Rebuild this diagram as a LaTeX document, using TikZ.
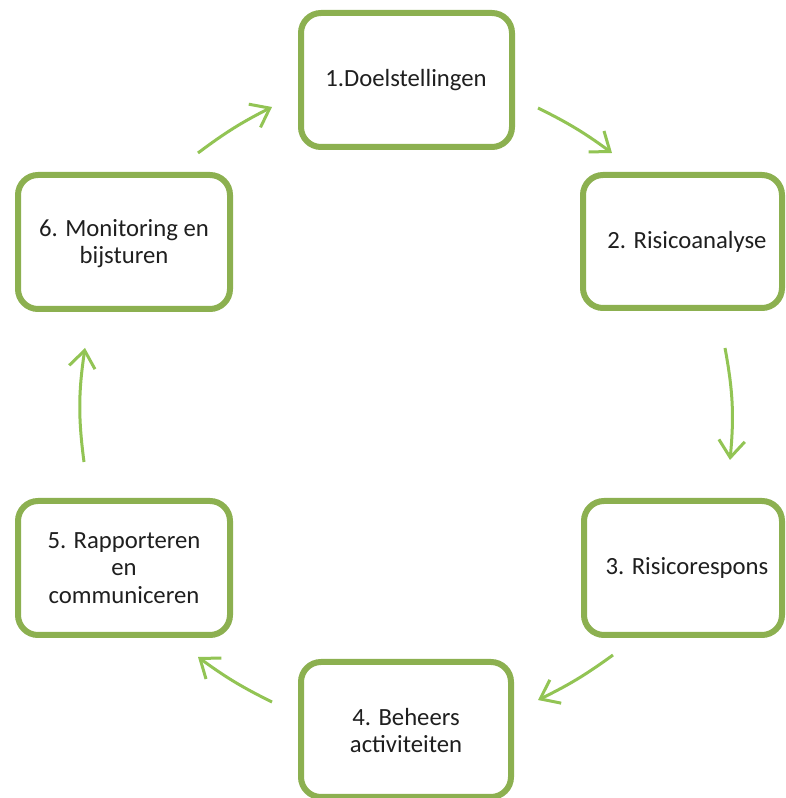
\documentclass[tikz,border=0pt]{standalone}
\usepackage{fontspec}
\setmainfont{Carlito}
\usetikzlibrary{arrows.meta}
\definecolor{boxgreen}{RGB}{140,176,80}
\definecolor{arrowgreen}{RGB}{146,196,84}
\begin{document}
\begin{tikzpicture}[x=1pt,y=1pt,
  stepbox/.style={draw=boxgreen, line width=6pt, rounded corners=20pt, fill=white,
    rectangle, inner sep=0pt, minimum width=211pt, minimum height=134pt},
  lbl/.style={font=\fontsize{24.7}{27.5}\selectfont, align=center, text=black!88, inner sep=0pt},
  flow/.style={draw=arrowgreen, line width=3pt,
    -{Straight Barb[length=17pt,width=26pt,line width=3pt]}},
]
\clip (0,0) rectangle (786,798);
\fill[white] (0,0) rectangle (786,798);

% boxes
\node[stepbox] (b1) at (406.5,718) {};
\node[stepbox, minimum width=199pt, minimum height=133pt] (b2) at (682.5,556.5) {};
\node[stepbox, minimum width=198pt] (b3) at (683,230) {};
\node[stepbox, minimum width=210pt, minimum height=135pt] (b4) at (406,68.5) {};
\node[stepbox, minimum width=212pt] (b5) at (124,230) {};
\node[stepbox, minimum width=212pt] (b6) at (124,556) {};

% labels
\node[lbl] (t1) at (406,718) {1.Doelstellingen};
\node[lbl] (t2) at (687,556) {2. Risicoanalyse};
\node[lbl] (t3) at (687,230) {3. Risicorespons};
\node[lbl] (t4) at (406,67.5) {4. Beheers\\activiteiten};
\node[lbl] (t5) at (124,230) {5. Rapporteren\\en\\communiceren};
\node[lbl] (t6) at (124,554.5) {6. Monitoring en\\bijsturen};

% arrow end points
\coordinate (a12s) at (538,690); \coordinate (a12e) at (612,645);
\coordinate (a23s) at (725,450); \coordinate (a23e) at (730,338);
\coordinate (a34s) at (613,143); \coordinate (a34e) at (538,98);
\coordinate (a45s) at (272,96);  \coordinate (a45e) at (198,141);
\coordinate (a56s) at (84,336);  \coordinate (a56e) at (85,450);
\coordinate (a61s) at (198,645); \coordinate (a61e) at (272,691);

\draw[flow] (a12s) to[bend left=5] (a12e);
\draw[flow] (a23s) to[bend left=8] (a23e);
\draw[flow] (a34s) to[bend left=5] (a34e);
\draw[flow] (a45s) to[bend left=5] (a45e);
\draw[flow] (a56s) to[bend left=8] (a56e);
\draw[flow] (a61s) to[bend left=5] (a61e);
\end{tikzpicture}
\end{document}
